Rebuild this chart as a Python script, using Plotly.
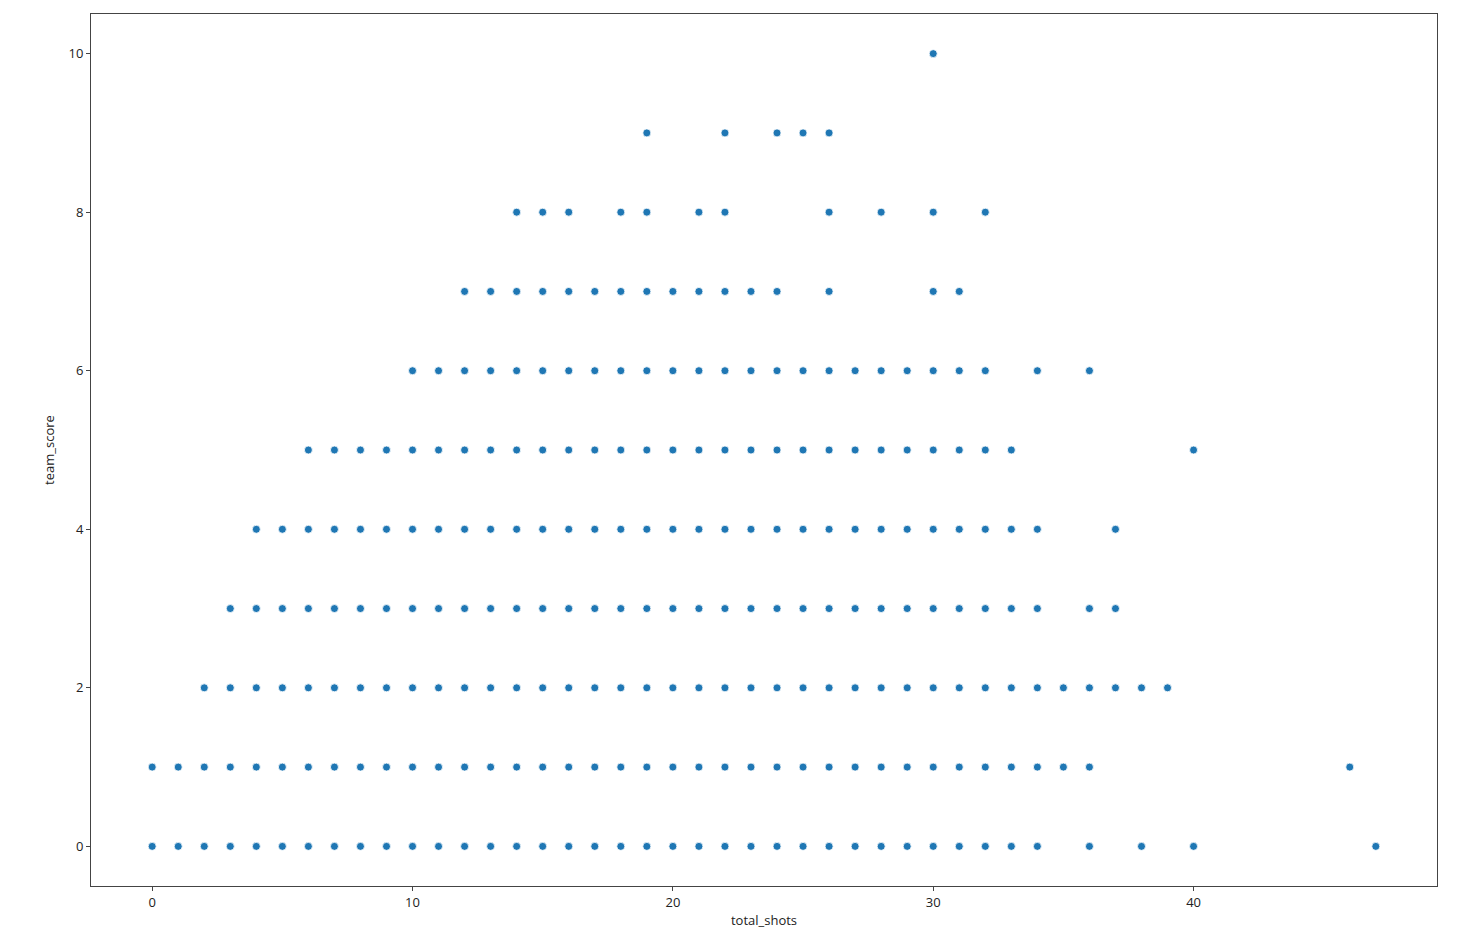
import plotly.graph_objects as go

# team_score rows and the total_shots values observed at each score
score_0 = list(range(0, 35)) + [36, 38, 40, 47]
score_1 = list(range(0, 37)) + [46]
score_2 = list(range(2, 40))
score_3 = list(range(3, 35)) + [36, 37]
score_4 = list(range(4, 35)) + [37]
score_5 = list(range(6, 34)) + [40]
score_6 = list(range(10, 33)) + [34, 36]
score_7 = list(range(12, 25)) + [26, 30, 31]
score_8 = [14, 15, 16, 18, 19, 21, 22, 26, 28, 30, 32]
score_9 = [19, 22, 24, 25, 26]
score_10 = [30]

rows = [score_0, score_1, score_2, score_3, score_4, score_5,
        score_6, score_7, score_8, score_9, score_10]

total_shots = []
team_score = []
for s, xs in enumerate(rows):
    total_shots += xs
    team_score += [s] * len(xs)

x_ticks = [0, 10, 20, 30, 40]
y_ticks = [0, 2, 4, 6, 8, 10]

fig = go.Figure(go.Scatter(
    x=total_shots, y=team_score, mode="markers",
    marker=dict(color="#1f77b4", size=8, line=dict(color="white", width=0.8)),
    showlegend=False,
))

font = dict(family="Open Sans, DejaVu Sans, sans-serif", size=13, color="#222")
axis_common = dict(
    showline=True, linecolor="#444", linewidth=1, mirror=True,
    ticks="outside", ticklen=4, tickcolor="#444", tickwidth=1,
    showgrid=False, zeroline=False, tickfont=font,
)
fig.update_layout(
    width=1444, height=930,
    margin=dict(l=83, r=15, t=6, b=52),
    plot_bgcolor="white", paper_bgcolor="white",
    font=font,
    xaxis=dict(range=[-2.35, 49.35], tickvals=x_ticks,
               title=dict(text="total_shots", font=font, standoff=6), **axis_common),
    yaxis=dict(range=[-0.5, 10.5], tickvals=y_ticks,
               title=dict(text="team_score", font=font, standoff=10), **axis_common),
)

fig.write_html("out.html")
